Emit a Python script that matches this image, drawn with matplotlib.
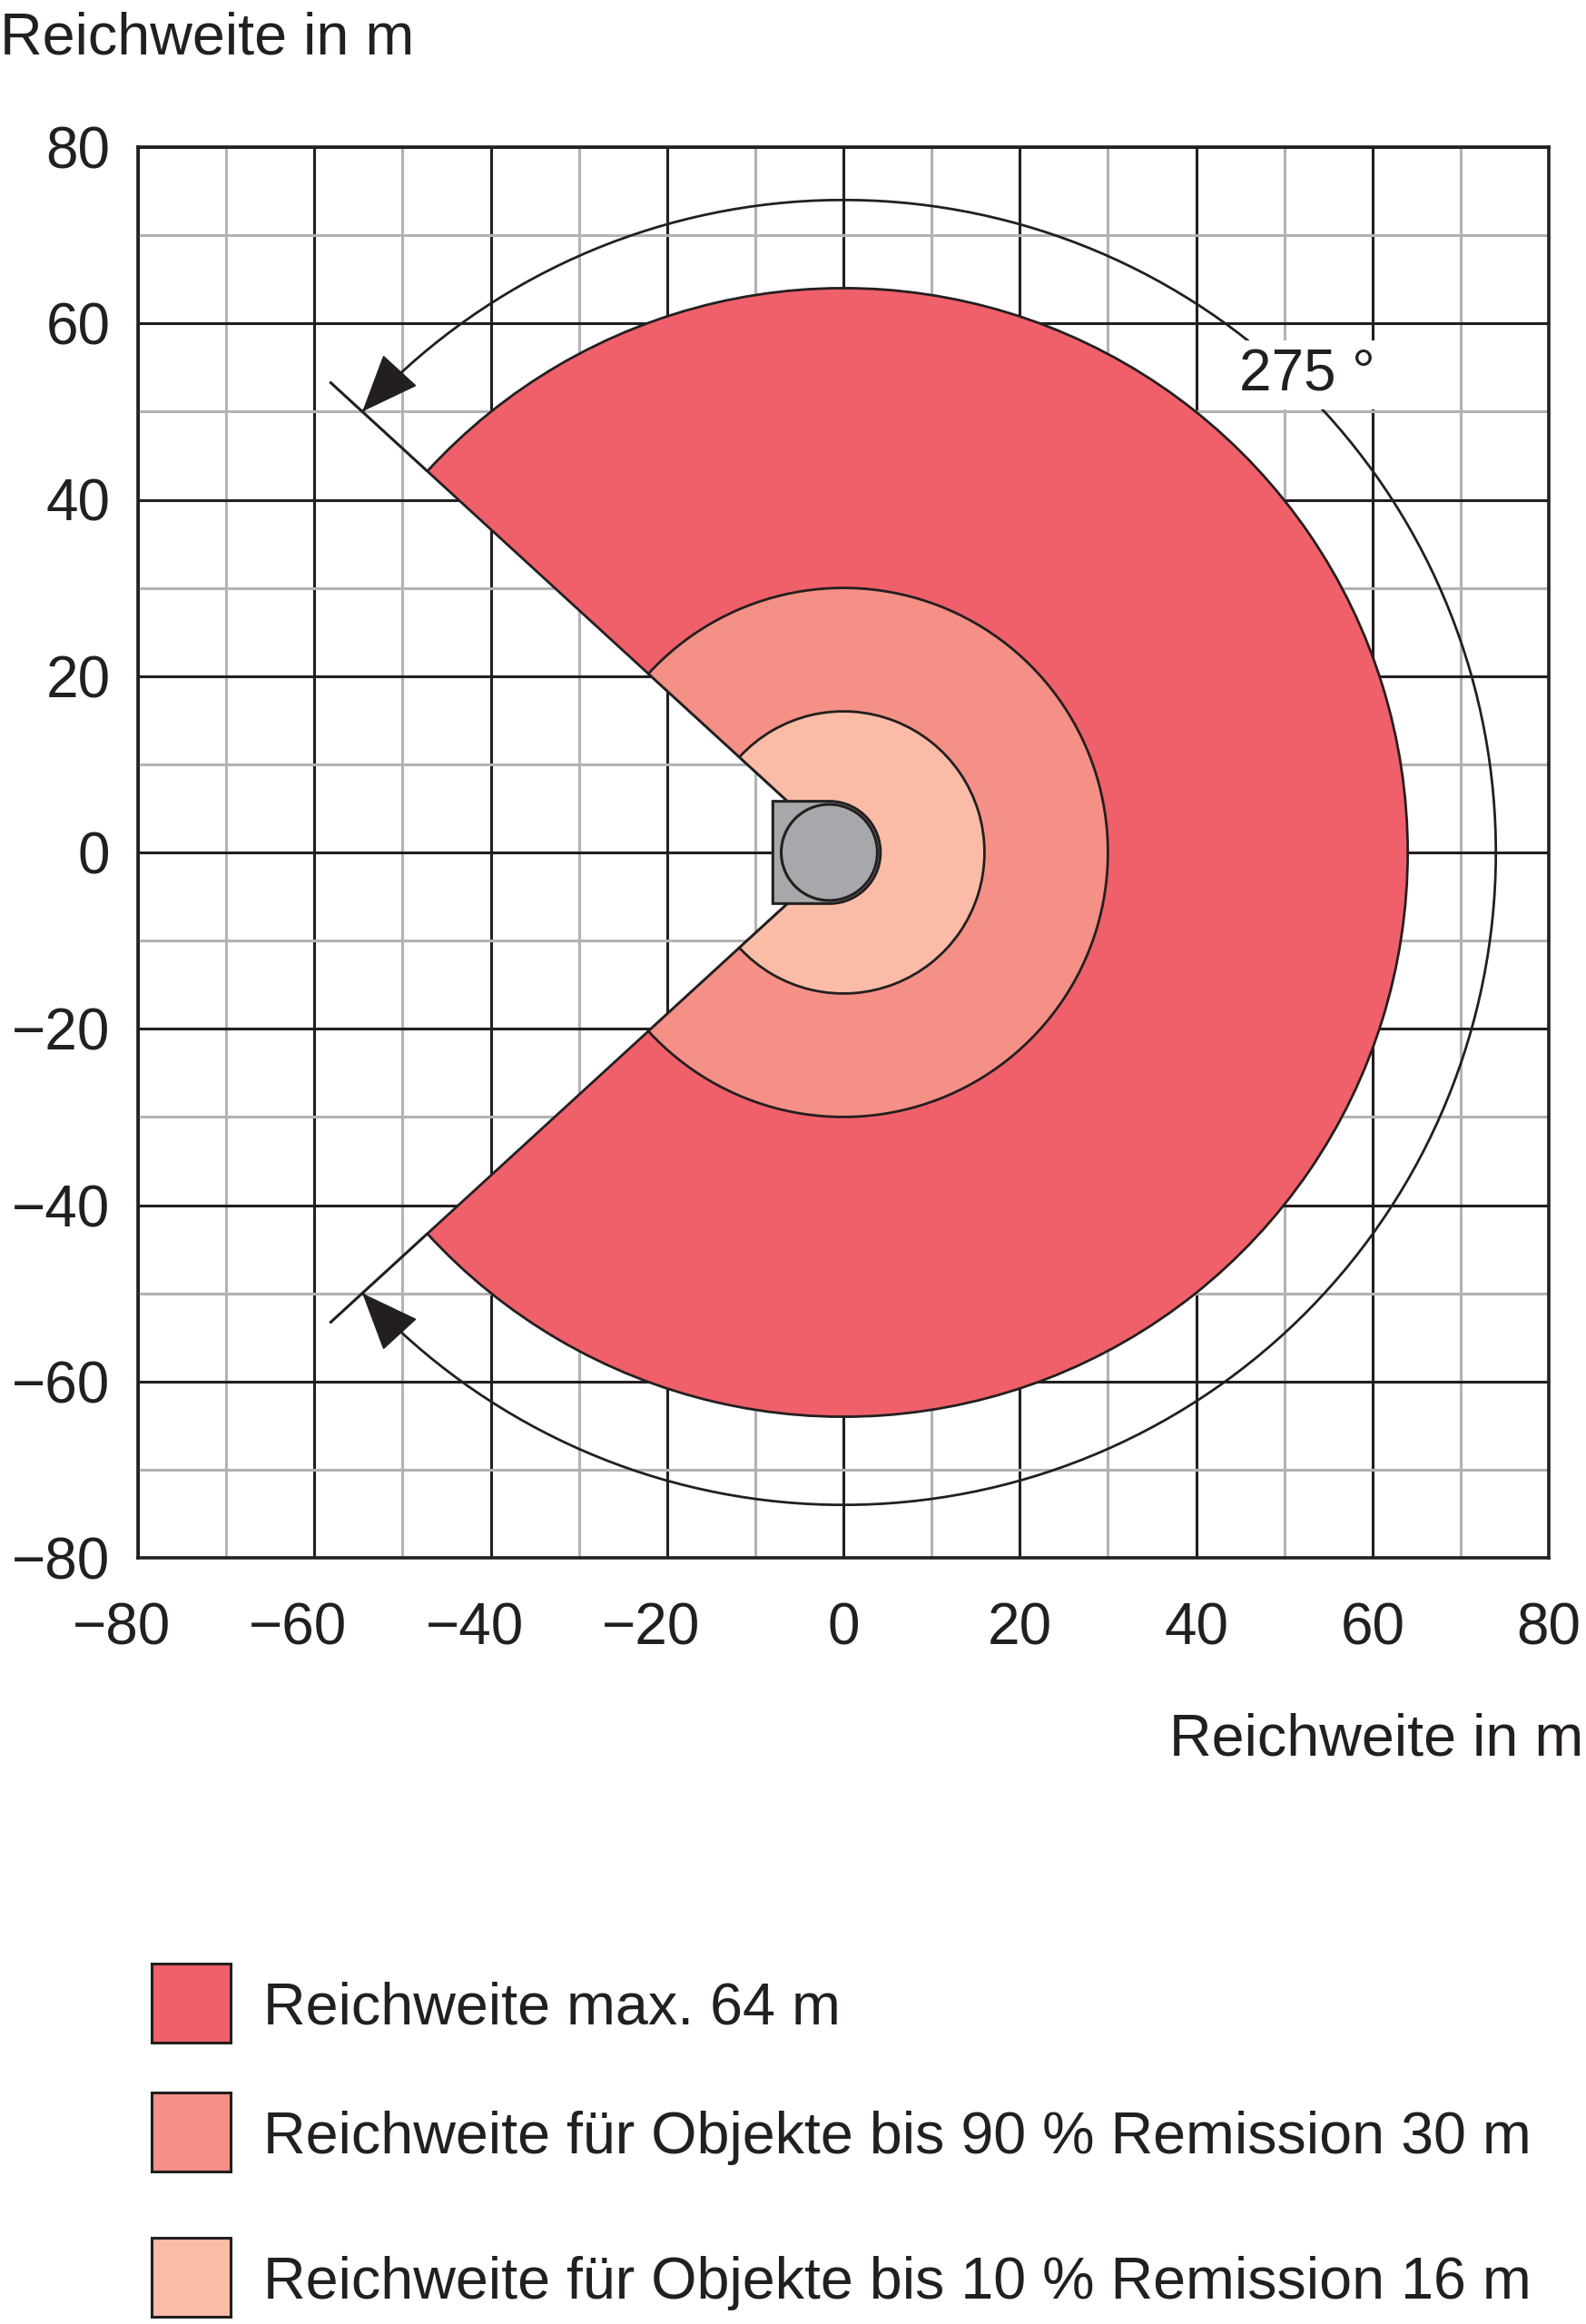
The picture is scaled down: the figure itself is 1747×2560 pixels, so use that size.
import numpy as np
import matplotlib
matplotlib.use('Agg')
from matplotlib import pyplot as plt
from matplotlib.patches import Wedge, Polygon, Circle, Rectangle, FancyArrowPatch
from matplotlib.transforms import blended_transform_factory, ScaledTranslation

plt.rcParams['font.family'] = ['Liberation Sans', 'DejaVu Sans']

# ranges of the three detection fields (m), drawn largest first
ranges = [64, 30, 16]
colors = ['#f0606a', '#f59086', '#fbbca7']
labels = ['Reichweite max. 64 m',
          'Reichweite für Objekte bis 90 % Remission 30 m',
          'Reichweite für Objekte bis 10 % Remission 16 m']
opening_angle = 275  # degrees
angle_label = '275 °'
arc_radius = 74
edge_line_radius = 79

major_ticks = [-80, -60, -40, -20, 0, 20, 40, 60, 80]
minor_ticks = [-70, -50, -30, -10, 10, 30, 50, 70]
axis_label = 'Reichweite in m'

# sensor housing (m)
sensor_left = -8.0
sensor_center = -1.6
sensor_half_height = 5.8
sensor_lens_radius = 5.45

ink = '#231f20'
grid_grey = '#b3b3b5'
sensor_grey = '#a7a8ab'

W, H = 1747, 2560
fig = plt.figure(figsize=(W / 100, H / 100), dpi=100)
ax = fig.add_axes([152 / W, 1 - 1716 / H, 1554 / W, 1554 / H])
ax.set_xlim(-80, 80)
ax.set_ylim(-80, 80)
ax.set_aspect('equal')

# grid
ax.set_xticks(major_ticks)
ax.set_yticks(major_ticks)
ax.set_xticks(minor_ticks, minor=True)
ax.set_yticks(minor_ticks, minor=True)
ax.set_axisbelow(True)
ax.grid(True, which='major', color=ink, lw=2.2)
ax.grid(True, which='minor', color=grid_grey, lw=2.2)
ax.tick_params(which='both', length=0)
ax.tick_params(axis='y', labelsize=46, pad=22, colors=ink)
ax.set_xticklabels([])
for s in ax.spines.values():
    s.set_linewidth(2.6)
    s.set_color(ink)

# x tick labels: digits centred on the grid line, minus hanging to the left
xt = blended_transform_factory(ax.transData, ax.transAxes)
for v in major_ticks:
    tr = xt
    if v < 0:
        tr = xt + ScaledTranslation(-0.18, 0, fig.dpi_scale_trans)
    ax.text(v, -0.031, f'{v}'.replace('-', '\u2212'), transform=tr,
            ha='center', va='top', fontsize=46, color=ink)

# detection fields
half = opening_angle / 2
for r, c in zip(ranges, colors):
    ax.add_patch(Wedge((0, 0), r, -half, half, facecolor=c, edgecolor=ink,
                       lw=2.0, zorder=2))

# radial lines beyond the largest field
for a in (half, -half):
    t = np.radians(a)
    ax.plot([ranges[0] * np.cos(t), edge_line_radius * np.cos(t)],
            [ranges[0] * np.sin(t), edge_line_radius * np.sin(t)],
            color=ink, lw=2.2, zorder=3, solid_capstyle='butt')

# opening angle arc with arrowheads
th = np.radians(np.linspace(-half, half, 400))
ax.plot(arc_radius * np.cos(th), arc_radius * np.sin(th), color=ink, lw=2.0, zorder=3)
for a, sgn in ((half, 1), (-half, -1)):
    t = np.radians(a)
    tip = np.array([arc_radius * np.cos(t), arc_radius * np.sin(t)])
    tang = sgn * np.array([-np.sin(t), np.cos(t)])
    start = tip - 6 * tang
    ax.add_patch(FancyArrowPatch(start, tip, arrowstyle='-|>,head_length=0.42,head_width=0.17',
                                 mutation_scale=100, color=ink, lw=1.2,
                                 shrinkA=0, shrinkB=0, zorder=4))

ax.text(44.9, 52.4, angle_label, ha='left', va='baseline', fontsize=46, color=ink,
        zorder=5, bbox=dict(boxstyle='square,pad=0.12', fc='white', ec='none'))

# sensor
arc = np.radians(np.linspace(-90, 90, 100))
pts = [(sensor_left, -sensor_half_height)]
pts += list(zip(sensor_center + sensor_half_height * np.cos(arc),
                sensor_half_height * np.sin(arc)))
pts += [(sensor_left, sensor_half_height)]
ax.add_patch(Polygon(pts, closed=True, facecolor=sensor_grey, edgecolor=ink,
                     lw=2.2, zorder=6))
ax.add_patch(Circle((sensor_center, 0), sensor_lens_radius, facecolor=sensor_grey,
                    edgecolor=ink, lw=2.2, zorder=7))

# axis titles
fig.text(0 / W, 1 - 59 / H, axis_label, ha='left', va='baseline', fontsize=46.5, color=ink)
fig.text(1744 / W, 1 - 1933 / H, axis_label, ha='right', va='baseline', fontsize=46.5, color=ink)

# legend
box_tops = [2163, 2305, 2465]
for top, c, lab in zip(box_tops, colors, labels):
    fig.add_artist(Rectangle((167 / W, 1 - (top + 87) / H), 87 / W, 87 / H,
                             transform=fig.transFigure, facecolor=c,
                             edgecolor=ink, lw=2.2))
    fig.text(290 / W, 1 - (top + 67) / H, lab, ha='left', va='baseline',
             fontsize=46.5, color=ink)

fig.savefig('out.png', dpi=100)
